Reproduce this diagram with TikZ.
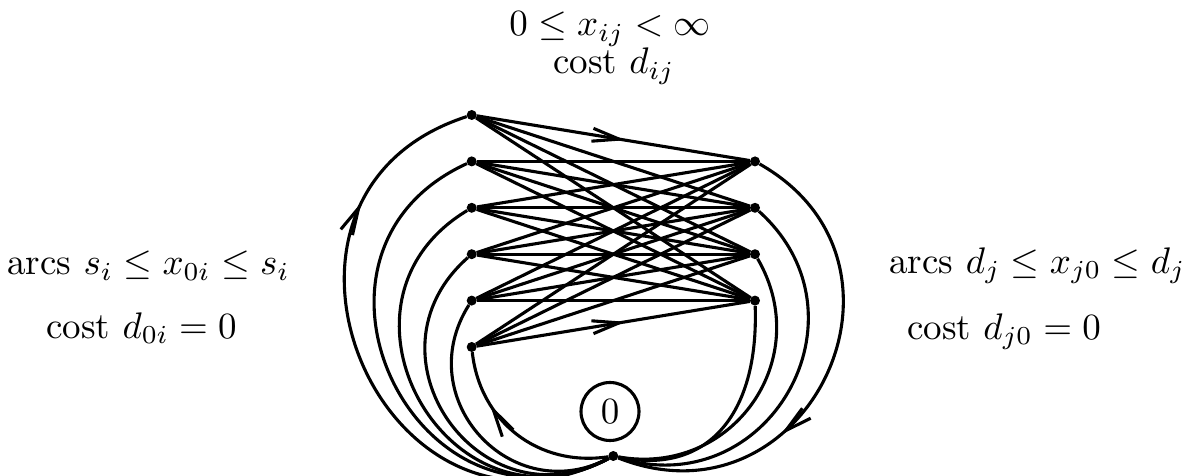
\documentclass[tikz,border=0pt]{standalone}
\usepackage{graphicx}
\usetikzlibrary{decorations.markings,arrows.meta}
\tikzset{
  dot/.style={circle, fill=black, inner sep=0pt, minimum size=10pt},
  edge/.style={line width=3.1pt},
  lbl/.style={scale=3.7, anchor=base, inner sep=0pt},
  midarrow/.style={postaction={decorate}, decoration={markings,
      mark=at position #1 with {\arrow{Straight Barb[length=27pt,width=13pt]}}}},
  cur/.style={}
}
\begin{document}
\begin{tikzpicture}[x=1pt,y=1pt]
\useasboundingbox (0,0) rectangle (1194,476);
% nodes
\node[dot] (L1) at (471.7,361) {};
\node[dot] (L2) at (471.7,314.6) {};
\node[dot] (L3) at (471.7,268.2) {};
\node[dot] (L4) at (471.7,221.8) {};
\node[dot] (L5) at (471.7,175.4) {};
\node[dot] (L6) at (471.7,129) {};
\node[dot] (R1) at (755,314.6) {};
\node[dot] (R2) at (755,268.2) {};
\node[dot] (R3) at (755,221.8) {};
\node[dot] (R4) at (755,175.4) {};
\node[dot] (s) at (613.3,20) {};
\node[circle, draw, line width=3.1pt, minimum size=58pt, inner sep=0pt] (z) at (610,64.5) {\scalebox{3.7}{$0$}};
% bipartite edges
\foreach \i in {1,...,6}{\foreach \j in {1,...,4}{
  \ifnum\i\j=11 \tikzset{cur/.style={midarrow=0.545}}\fi
  \ifnum\i\j=64 \tikzset{cur/.style={midarrow=0.545}}\fi
  \draw[edge,cur] (L\i) -- (R\j);
}}
% arcs from sink to left nodes
\draw[edge,midarrow=0.77] (s) to[out=-152.8,in=197.9,distance=256pt] (L1);
\draw[edge] (s) to[out=-153.5,in=204.6,distance=215pt] (L2);
\draw[edge] (s) to[out=-151.7,in=211.1,distance=181pt] (L3);
\draw[edge] (s) to[out=-151.6,in=221.4,distance=147pt] (L4);
\draw[edge] (s) to[out=-152.5,in=237.7,distance=110.5pt] (L5);
\draw[edge,midarrow=0.71] (s) to[out=-171.5,in=276.3,distance=70.3pt] (L6);
% arcs from right nodes to sink
\draw[edge,midarrow=0.65] (R1) to[out=-29.5,in=-21.6,distance=203pt] (s);
\draw[edge] (R2) to[out=-41.9,in=-17.6,distance=157pt] (s);
\draw[edge] (R3) to[out=-59.9,in=-10,distance=115.9pt] (s);
\draw[edge] (R4) to[out=-88,in=-12,out distance=110pt,in distance=90pt] (s);
% labels
\node[lbl] (t1) at (610,440) {$0\le x_{ij}<\infty$};
\node[lbl] (t2) at (614,402) {cost $d_{ij}$};
\node[lbl] (t3) at (148.5,201) {arcs $s_i\le x_{0i}\le s_i$};
\node[lbl] (t4) at (141.5,137.7) {cost $d_{0i}=0$};
\node[lbl] (t5) at (1037.5,202.7) {arcs $d_j\le x_{j0}\le d_j$};
\node[lbl] (t6) at (1004,136.7) {cost $d_{j0}=0$};
\end{tikzpicture}
\end{document}
